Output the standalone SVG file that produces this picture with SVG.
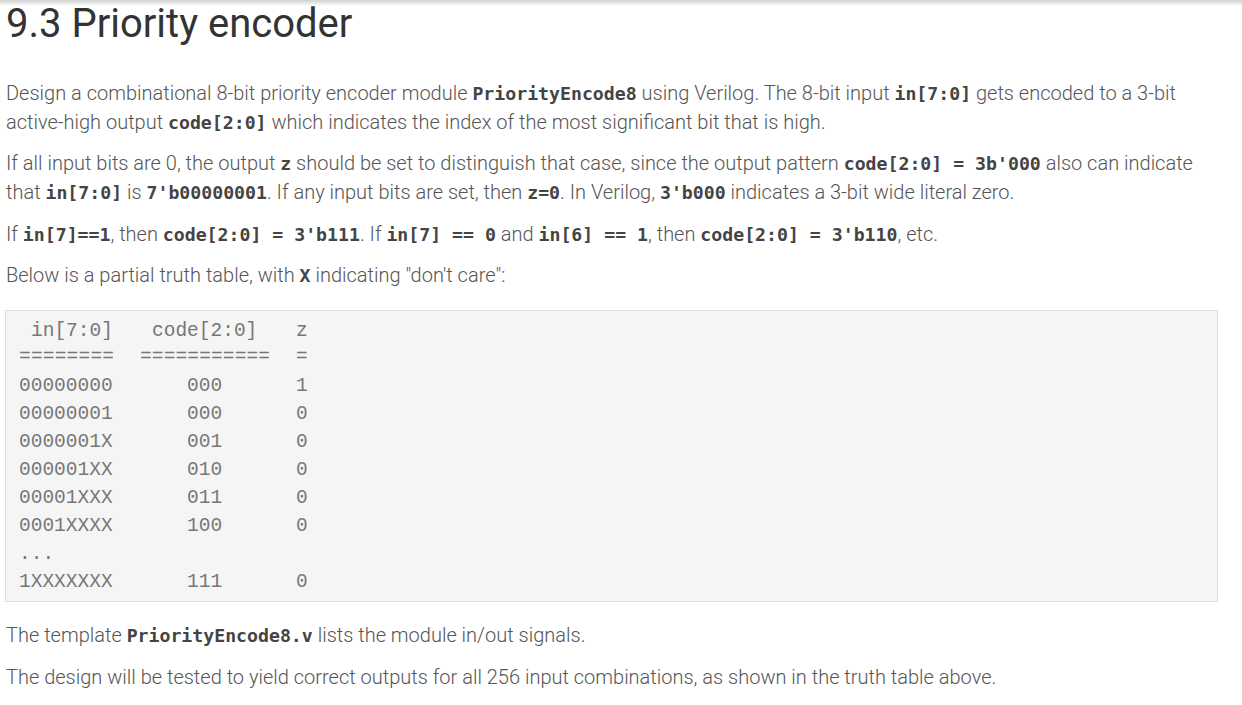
<svg xmlns="http://www.w3.org/2000/svg" width="1242" height="705" viewBox="0 0 1242 705">
<defs>
<linearGradient id="sh" x1="0" y1="0" x2="0" y2="1"><stop offset="0" stop-color="#d0d0d0"/><stop offset="1" stop-color="#fff"/></linearGradient>
<style>
.b{font-family:Roboto,"Liberation Sans",sans-serif;font-weight:300;font-size:20px;fill:#555}
.c{font-family:"DejaVu Sans Mono","Liberation Mono",monospace;font-weight:bold;font-size:18.2px;fill:#444}
.t{font-family:"Liberation Mono","Courier New",monospace;font-size:19.5px;fill:#777}
</style>
</defs>
<rect width="1242" height="705" fill="#fff"/>
<rect width="1242" height="6" fill="url(#sh)"/>
<text x="6" y="37" font-family="Roboto,'Liberation Sans',sans-serif" font-size="40" fill="#333">9.3 Priority encoder</text>
<text class="b" x="6" y="100">Design a combinational 8-bit priority encoder module <tspan class="c">PriorityEncode8</tspan> using Verilog. The 8-bit input <tspan class="c">in[7:0]</tspan> gets encoded to a 3-bit</text>
<text class="b" x="6" y="129">active-high output <tspan class="c">code[2:0]</tspan> which indicates the index of the most significant bit that is high.</text>
<text class="b" x="6" y="170">If all input bits are 0, the output <tspan class="c">z</tspan> should be set to distinguish that case, since the output pattern <tspan class="c">code[2:0] = 3b'000</tspan> also can indicate</text>
<text class="b" x="6" y="199">that <tspan class="c">in[7:0]</tspan> is <tspan class="c">7'b00000001</tspan>. If any input bits are set, then <tspan class="c">z=0</tspan>. In Verilog, <tspan class="c">3'b000</tspan> indicates a 3-bit wide literal zero.</text>
<text class="b" x="6" y="241">If <tspan class="c">in[7]==1</tspan>, then <tspan class="c">code[2:0] = 3'b111</tspan>. If <tspan class="c">in[7] == 0</tspan> and <tspan class="c">in[6] == 1</tspan>, then <tspan class="c">code[2:0] = 3'b110</tspan>, etc.</text>
<text class="b" x="6" y="282">Below is a partial truth table, with <tspan class="c">X</tspan> indicating "don't care":</text>
<rect x="5.5" y="310.5" width="1212" height="291" fill="#f5f5f5" stroke="#ddd"/>
<g class="t">
<text x="31" y="336">in[7:0]</text><text x="152" y="336">code[2:0]</text><text x="296" y="336">z</text>
<text x="19" y="362" textLength="95">========</text><text x="140" y="362" textLength="130">===========</text><text x="296" y="362">=</text>
<text x="19" y="391">00000000</text><text x="187" y="391">000</text><text x="296" y="391">1</text>
<text x="19" y="419">00000001</text><text x="187" y="419">000</text><text x="296" y="419">0</text>
<text x="19" y="447">0000001X</text><text x="187" y="447">001</text><text x="296" y="447">0</text>
<text x="19" y="475">000001XX</text><text x="187" y="475">010</text><text x="296" y="475">0</text>
<text x="19" y="503">00001XXX</text><text x="187" y="503">011</text><text x="296" y="503">0</text>
<text x="19" y="531">0001XXXX</text><text x="187" y="531">100</text><text x="296" y="531">0</text>
<text x="19" y="559">...</text>
<text x="19" y="587">1XXXXXXX</text><text x="187" y="587">111</text><text x="296" y="587">0</text>
</g>
<text class="b" x="6" y="642">The template <tspan class="c">PriorityEncode8.v</tspan> lists the module in/out signals.</text>
<text class="b" x="6" y="684">The design will be tested to yield correct outputs for all 256 input combinations, as shown in the truth table above.</text>
</svg>
